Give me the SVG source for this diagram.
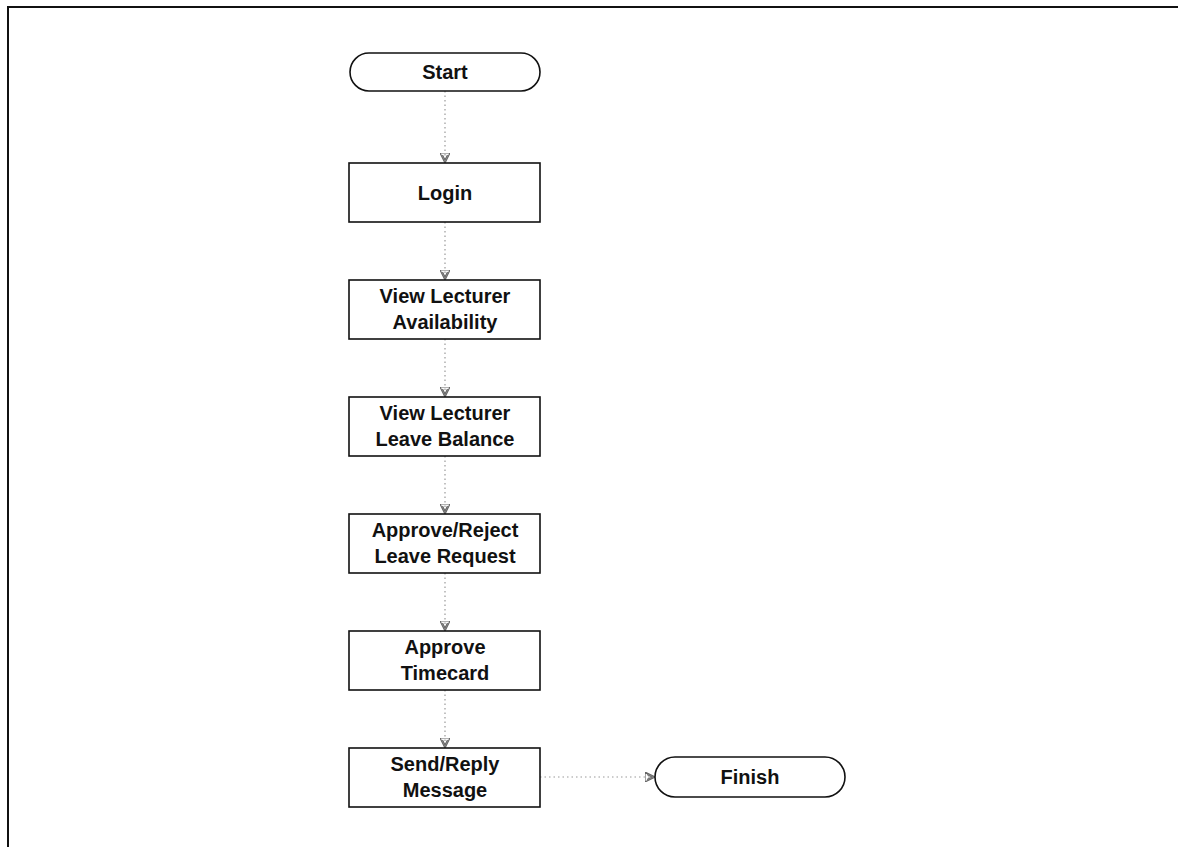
<svg xmlns="http://www.w3.org/2000/svg" width="1178" height="847" viewBox="0 0 1178 847">
<style>
.box{fill:#fff;stroke:#111;stroke-width:1.6}
.t{font-family:"Liberation Sans",Arial,sans-serif;font-size:20px;font-weight:bold;fill:#111;text-anchor:middle}
.c{fill:none;stroke:#999;stroke-width:1.2;stroke-dasharray:1.5 3}
.frame{fill:none;stroke:#111;stroke-width:2}
</style>
<defs>
<marker id="arr" viewBox="0 0 10 10" refX="10" refY="5" markerWidth="10" markerHeight="10" markerUnits="userSpaceOnUse" orient="auto">
<path d="M0,0 L10,5 L0,10 Z M2,2.5 L7,5 L2,7.5" fill="none" stroke="#666" stroke-width="1.2"/>
</marker>
</defs>
<rect width="1178" height="847" fill="#fff"/>
<path class="frame" d="M8,847 L8,7 L1178,7"/>
<g id="connectors">
<line class="c" x1="445" y1="91" x2="445" y2="163" marker-end="url(#arr)"/>
<line class="c" x1="445" y1="222" x2="445" y2="280" marker-end="url(#arr)"/>
<line class="c" x1="445" y1="339" x2="445" y2="397" marker-end="url(#arr)"/>
<line class="c" x1="445" y1="456" x2="445" y2="514" marker-end="url(#arr)"/>
<line class="c" x1="445" y1="573" x2="445" y2="631" marker-end="url(#arr)"/>
<line class="c" x1="445" y1="690" x2="445" y2="748" marker-end="url(#arr)"/>
<line class="c" x1="540" y1="777" x2="655" y2="777" marker-end="url(#arr)"/>
</g>
<g id="start">
<rect class="box" x="350" y="53" width="190" height="38" rx="19" ry="19"/>
<text class="t" x="445" y="79">Start</text>
</g>
<g id="login">
<rect class="box" x="349" y="163" width="191" height="59"/>
<text class="t" x="445" y="200">Login</text>
</g>
<g id="availability">
<rect class="box" x="349" y="280" width="191" height="59"/>
<text class="t" x="445" y="303">View Lecturer</text>
<text class="t" x="445" y="329">Availability</text>
</g>
<g id="leave-balance">
<rect class="box" x="349" y="397" width="191" height="59"/>
<text class="t" x="445" y="420">View Lecturer</text>
<text class="t" x="445" y="446">Leave Balance</text>
</g>
<g id="approve-reject">
<rect class="box" x="349" y="514" width="191" height="59"/>
<text class="t" x="445" y="537">Approve/Reject</text>
<text class="t" x="445" y="563">Leave Request</text>
</g>
<g id="timecard">
<rect class="box" x="349" y="631" width="191" height="59"/>
<text class="t" x="445" y="654">Approve</text>
<text class="t" x="445" y="680">Timecard</text>
</g>
<g id="send-reply">
<rect class="box" x="349" y="748" width="191" height="59"/>
<text class="t" x="445" y="771">Send/Reply</text>
<text class="t" x="445" y="797">Message</text>
</g>
<g id="finish">
<rect class="box" x="655" y="757" width="190" height="40" rx="20" ry="20"/>
<text class="t" x="750" y="784">Finish</text>
</g>
</svg>
